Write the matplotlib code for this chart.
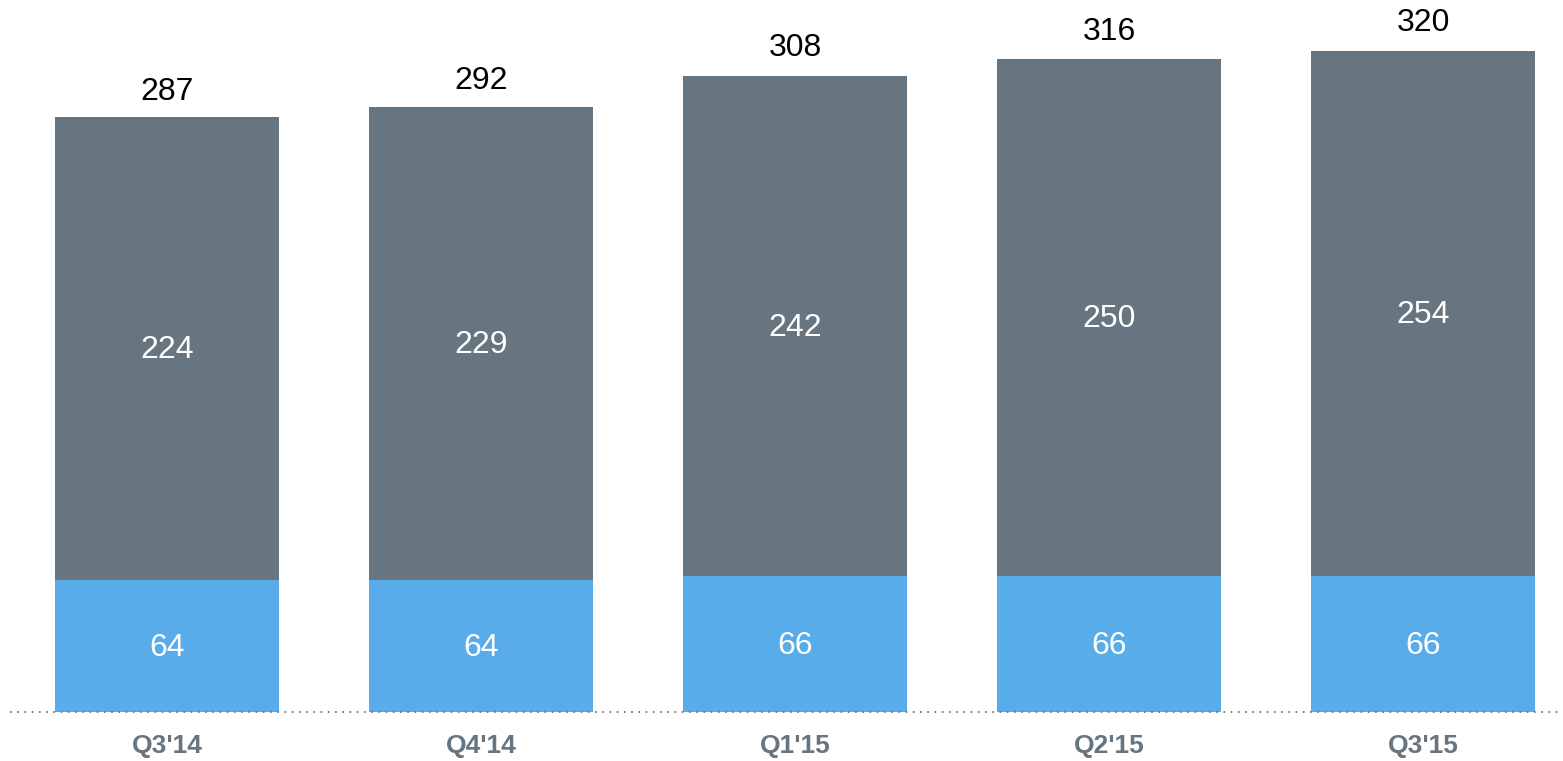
import matplotlib
matplotlib.use("Agg")
import matplotlib.pyplot as plt

# data
quarters = ["Q3'14", "Q4'14", "Q1'15", "Q2'15", "Q3'15"]
bottom_vals = [64, 64, 66, 66, 66]
top_vals = [224, 229, 242, 250, 254]
totals = [287, 292, 308, 316, 320]

BLUE = "#58ACE9"
GREY = "#66757F"

plt.rcParams["font.family"] = ["Liberation Sans", "DejaVu Sans"]

W, H = 1563, 761
fig = plt.figure(figsize=(W / 100, H / 100), dpi=100)

# axes placed in pixel terms: baseline at y=712, ~2.068 px per unit
px_per_unit = 2.066
ymax = 340
ax_h = ymax * px_per_unit
ax = fig.add_axes([10 / W, (H - 712) / H, 1550 / W, ax_h / H])

x = list(range(len(quarters)))
width = 224 / 314

ax.bar(x, bottom_vals, width=width, color=BLUE, linewidth=0)
ax.bar(x, top_vals, width=width, bottom=bottom_vals, color=GREY, linewidth=0)

for i in x:
    ax.text(i, bottom_vals[i] / 2 - 1, str(bottom_vals[i]), ha="center", va="center",
            color="white", fontsize=23)
    ax.text(i, bottom_vals[i] + top_vals[i] / 2 - 1, str(top_vals[i]), ha="center",
            va="center", color="white", fontsize=23)
    ax.text(i, totals[i] + 6, str(totals[i]), ha="center", va="bottom",
            color="black", fontsize=23)

ax.axhline(0, color="#777777", linewidth=1.3, linestyle=(0, (1, 3)), clip_on=False)

ax.set_xlim(-0.5, (1560 - 167) / 314)
ax.set_ylim(0, ymax)
ax.set_xticks(x)
ax.set_xticklabels(quarters, fontsize=19, fontweight="bold", color=GREY)
ax.tick_params(axis="x", length=0, pad=16)
ax.set_yticks([])
for s in ax.spines.values():
    s.set_visible(False)

fig.savefig("out.png", dpi=100)
